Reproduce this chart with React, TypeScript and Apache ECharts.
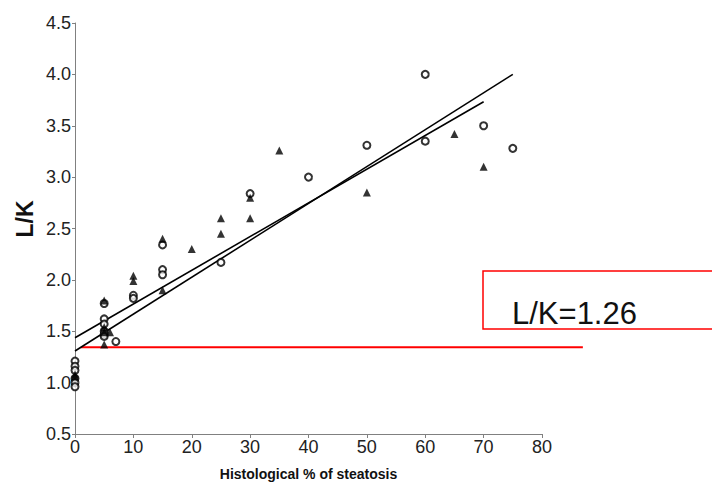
import React, { useEffect, useRef } from "react";
import * as echarts from "echarts";

// Open circles: [histological % steatosis, L/K]
const circleX = [0, 0, 0, 0, 0, 0, 5, 5, 5, 5, 5, 5, 7, 10, 10, 15, 15, 15, 25, 30, 40, 50, 60, 60, 70, 75];
const circleY = [1.21, 1.16, 1.12, 1.04, 1.0, 0.96, 1.77, 1.62, 1.57, 1.5, 1.47, 1.45, 1.4, 1.85, 1.82, 2.34, 2.1, 2.05, 2.17, 2.84, 3.0, 3.31, 4.0, 3.35, 3.5, 3.28];

// Filled triangles
const triX = [0, 0, 5, 5, 5, 5, 6, 10, 10, 15, 15, 20, 25, 25, 30, 30, 35, 50, 65, 70];
const triY = [1.08, 1.06, 1.8, 1.54, 1.49, 1.37, 1.49, 2.04, 1.99, 2.4, 1.9, 2.3, 2.6, 2.45, 2.8, 2.6, 3.26, 2.85, 3.42, 3.1];

// Regression lines (end points)
const lineAX = [0, 70];
const lineAY = [1.437, 3.734];
const lineBX = [0, 75];
const lineBY = [1.308, 4.0];

// Red threshold line
const redX = [1, 87];
const redY = [1.345, 1.345];
const thresholdLabel = "L/K=1.26";

const xTicks = { min: 0, max: 80, interval: 10 };
const yTicks = { min: 0.5, max: 4.5, interval: 0.5 };

const zip = (a: number[], b: number[]) => a.map((v, i) => [v, b[i]]);

export default function App() {
  const ref = useRef<HTMLDivElement>(null);
  useEffect(() => {
    if (!ref.current) return;
    const chart = echarts.init(ref.current, undefined, { renderer: "svg" });
    const font = "Liberation Sans, Arial, sans-serif";
    chart.setOption({
      animation: false,
      backgroundColor: "#ffffff",
      grid: { left: 75, right: 170, top: 23, bottom: 49, containLabel: false, outerBoundsMode: "none" },
      xAxis: {
        type: "value",
        min: xTicks.min,
        max: xTicks.max,
        interval: xTicks.interval,
        name: "Histological % of steatosis",
        nameLocation: "middle",
        nameGap: 33,
        nameTextStyle: { fontFamily: font, fontSize: 14, fontWeight: "bold", color: "#111" },
        axisLine: { lineStyle: { color: "#808080", width: 1 } },
        axisTick: { show: true, inside: false, length: 4, lineStyle: { color: "#808080" } },
        axisLabel: { fontFamily: font, fontSize: 18, color: "#222", margin: 4 },
        splitLine: { show: false },
      },
      yAxis: {
        type: "value",
        min: yTicks.min,
        max: yTicks.max,
        interval: yTicks.interval,
        axisLine: { show: true, lineStyle: { color: "#808080", width: 1 } },
        axisTick: { show: true, inside: false, length: 3, lineStyle: { color: "#808080" } },
        axisLabel: {
          fontFamily: font,
          fontSize: 18,
          color: "#222",
          margin: 4,
          formatter: (v: number) => v.toFixed(1),
        },
        splitLine: { show: false },
      },
      graphic: [
        {
          id: "ylabel",
          type: "text",
          x: 25,
          y: 219,
          rotation: Math.PI / 2,
          style: {
            text: "L/K",
            font: `bold 23px ${font}`,
            fill: "#111",
            align: "center",
            verticalAlign: "middle",
          },
        },
        {
          id: "box",
          type: "rect",
          shape: { x: 483, y: 271, width: 260, height: 58 },
          style: { fill: "none", stroke: "#ff0000", lineWidth: 1.5 },
        },
        {
          id: "boxtext",
          type: "text",
          x: 512,
          y: 313,
          style: {
            text: thresholdLabel,
            font: `31px ${font}`,
            fill: "#111",
            align: "left",
            verticalAlign: "middle",
          },
        },
      ],
      series: [
        {
          type: "line",
          data: zip(lineAX, lineAY),
          symbol: "none",
          lineStyle: { color: "#000", width: 1.6 },
          z: 2,
        },
        {
          type: "line",
          data: zip(lineBX, lineBY),
          symbol: "none",
          lineStyle: { color: "#000", width: 1.6 },
          z: 2,
        },
        {
          type: "scatter",
          data: zip(circleX, circleY),
          symbol: "emptyCircle",
          symbolSize: 7,
          clip: false,
          itemStyle: { color: "#000", borderColor: "#000", borderWidth: 1.2 },
          z: 3,
        },
        {
          type: "scatter",
          data: zip(triX, triY),
          symbol: "triangle",
          symbolSize: 8,
          clip: false,
          itemStyle: { color: "#000" },
          z: 4,
        },
      ],
    });
    const p1 = chart.convertToPixel({ gridIndex: 0 }, [redX[0], redY[0]]) as number[];
    const p2 = chart.convertToPixel({ gridIndex: 0 }, [redX[1], redY[1]]) as number[];
    chart.setOption({
      graphic: [
        {
          id: "redline",
          type: "line",
          z: 1,
          shape: { x1: p1[0], y1: p1[1], x2: p2[0], y2: p2[1] },
          style: { stroke: "#ff0000", lineWidth: 2 },
        },
      ],
    });
    return () => chart.dispose();
  }, []);
  return <div ref={ref} style={{ width: 712, height: 483, position: "absolute", left: 0, top: 0 }} />;
}
